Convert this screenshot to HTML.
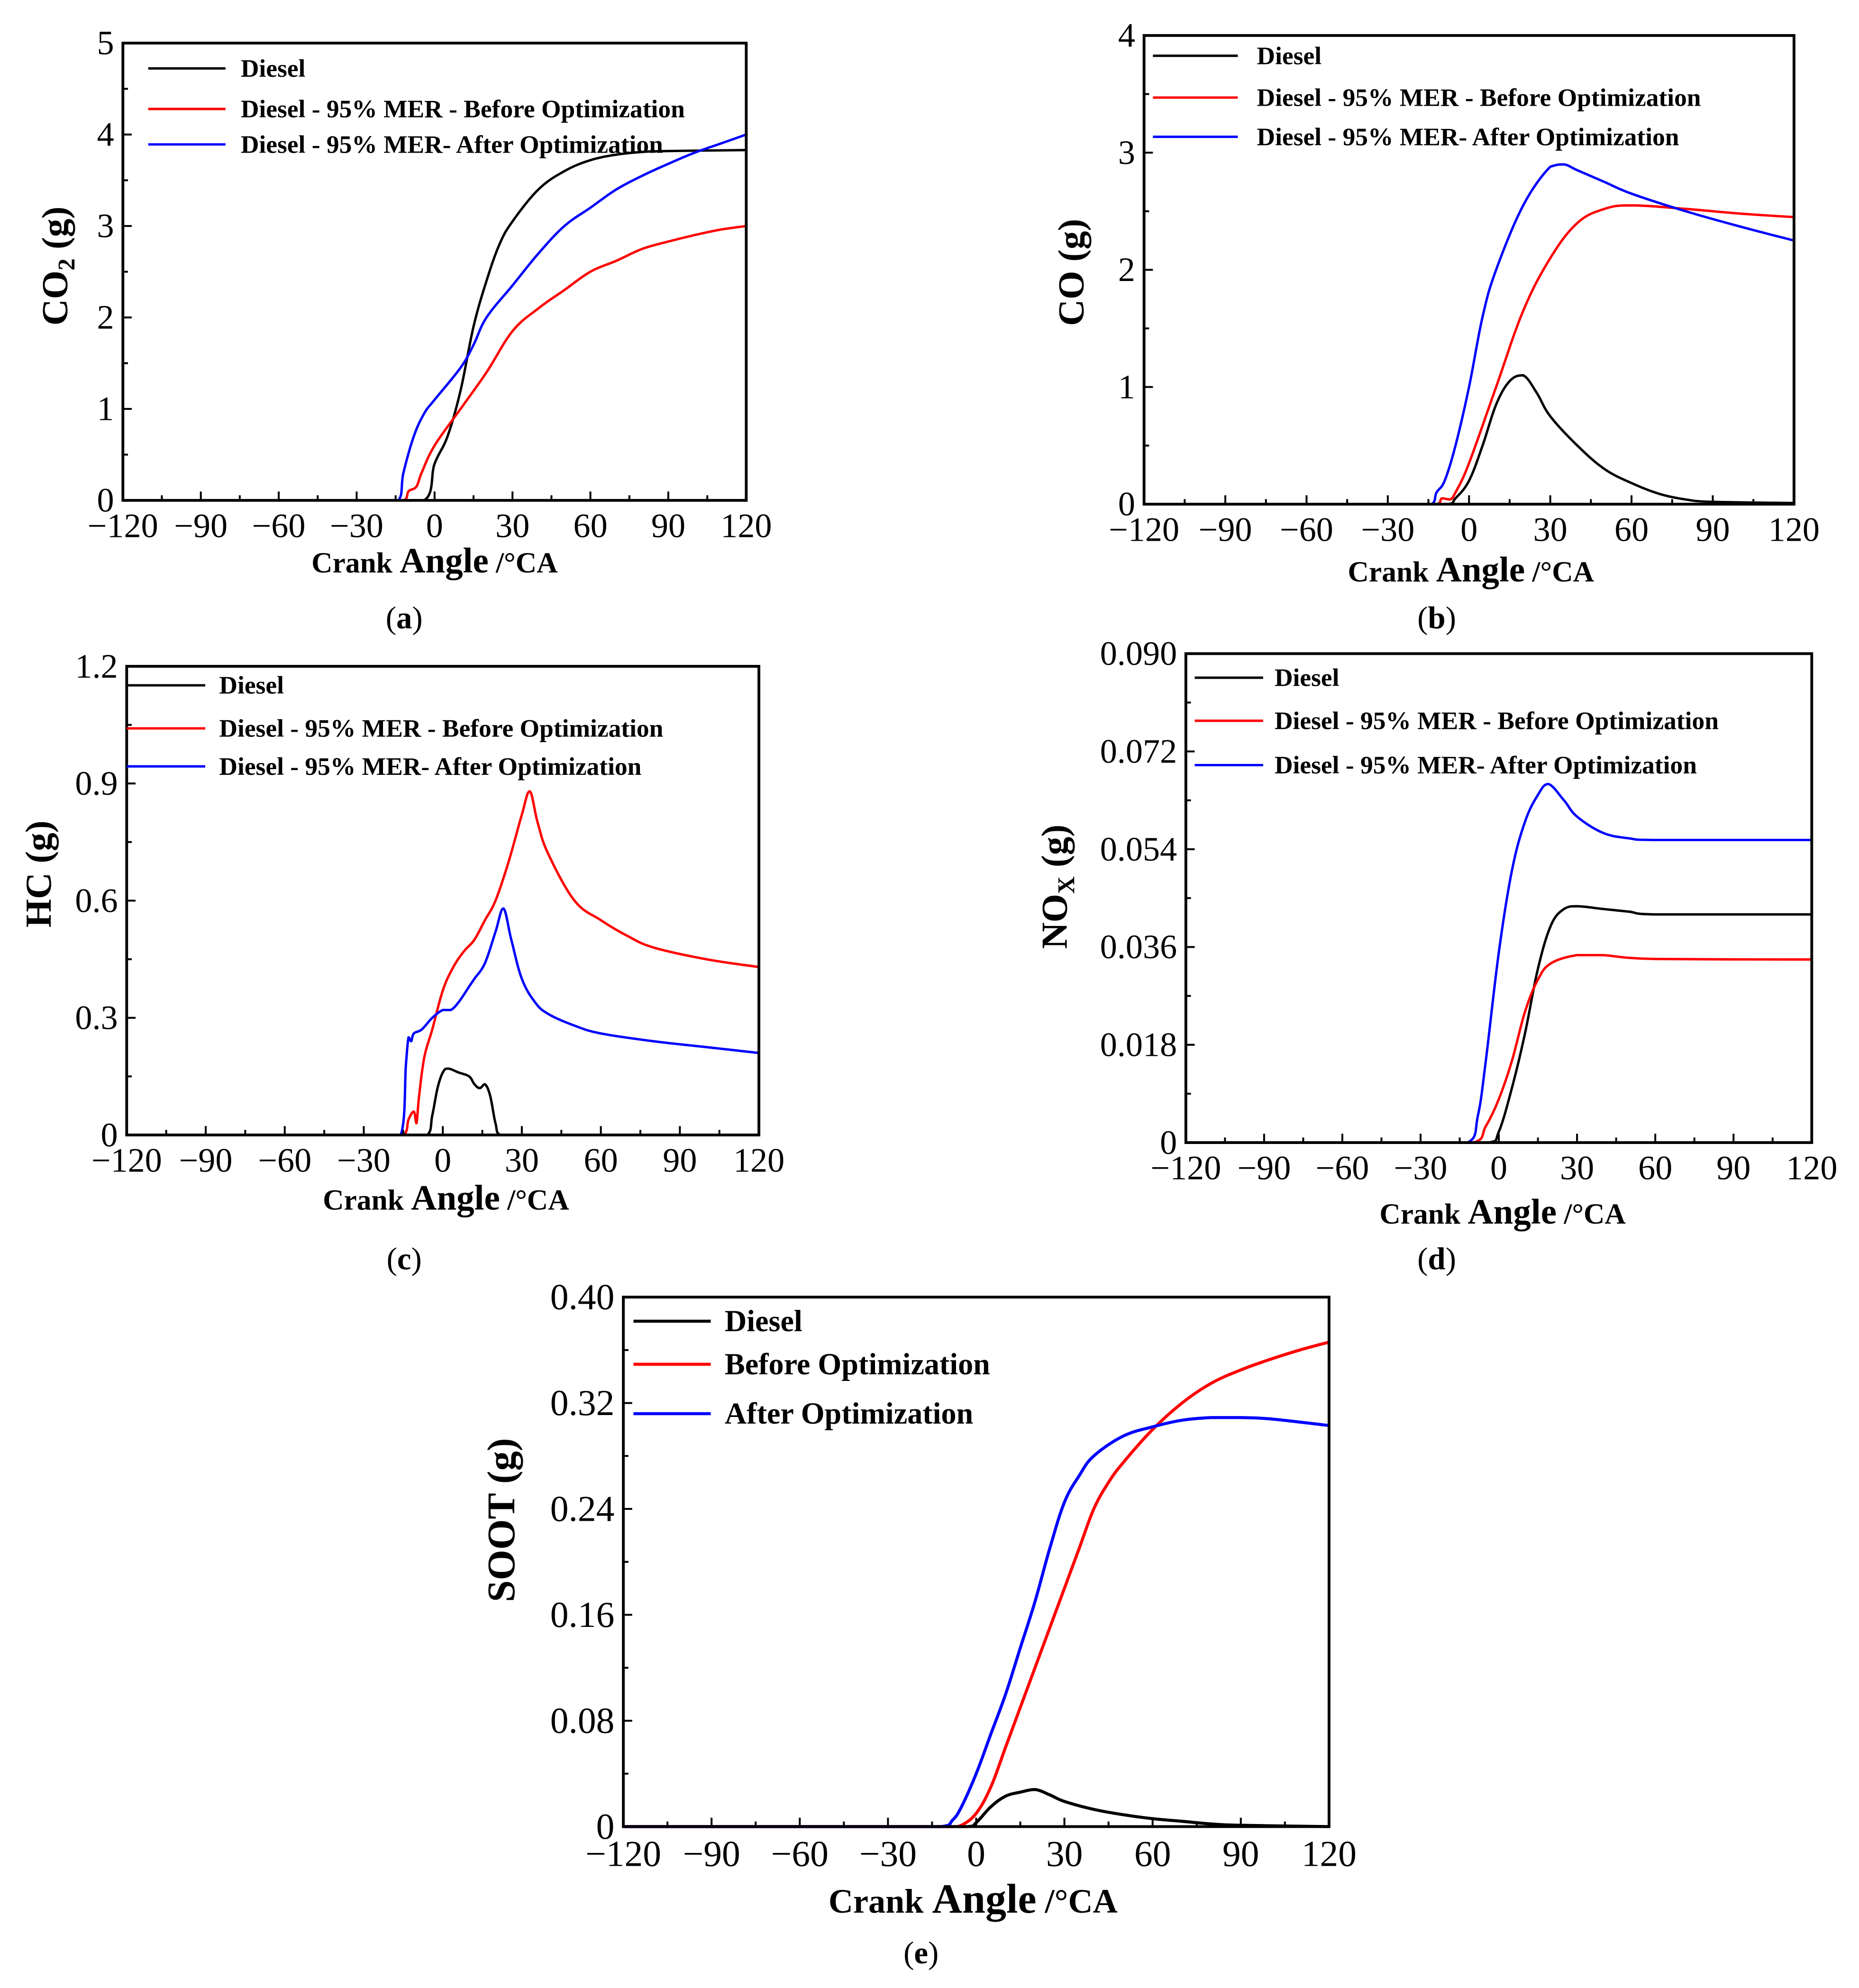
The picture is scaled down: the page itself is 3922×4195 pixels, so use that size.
<!DOCTYPE html>
<html><head><meta charset="utf-8"><style>
html,body{margin:0;padding:0;background:#fff}
svg{display:block}
text{font-family:"Liberation Serif","Times New Roman",serif;fill:#000}
</style></head><body>
<svg id="fig" font-family="Liberation Serif, serif" width="3922" height="4195" viewBox="0 0 1467.3 1569.4" xmlns="http://www.w3.org/2000/svg"></svg>
<script>
// ---- data (crank angle / value pairs) ----
const coX_diesel=[-120,-4,0,5,10,15,20,25,30,40,50,60,70,80,90,120];
const coY_diesel=[0,0,0.4,0.7,1.2,1.9,2.4,2.8,3.05,3.4,3.6,3.72,3.78,3.81,3.82,3.83];
const co2X_before=[-120,-12,-10,-7,-5,0,10,20,30,40,50,60,70,80,90,100,110,120];
const co2Y_before=[0,0,0.1,0.15,0.3,0.6,1.0,1.4,1.85,2.1,2.3,2.5,2.62,2.75,2.83,2.9,2.96,3.0];
const co2X_after=[-120,-14,-12,-8,-4,0,10,15,20,30,40,50,60,70,80,90,100,110,120];
const co2Y_after=[0,0,0.3,0.7,0.95,1.1,1.45,1.7,2.0,2.35,2.7,3.0,3.2,3.4,3.55,3.68,3.8,3.9,4.0];

const cobX_diesel=[-120,-8,-5,0,5,10,15,20,25,30,40,50,60,70,80,90,120];
const cobY_diesel=[0,0,0.05,0.2,0.5,0.85,1.05,1.1,0.95,0.75,0.5,0.3,0.18,0.09,0.04,0.02,0.01];
const cobX_before=[-120,-12,-10,-7,-5,0,10,20,30,40,50,60,80,100,120];
const cobY_before=[0,0,0.05,0.04,0.1,0.35,1.0,1.65,2.1,2.4,2.52,2.55,2.52,2.48,2.45];
const cobX_after=[-120,-14,-12,-9,-5,0,5,10,20,30,35,40,50,60,80,100,120];
const cobY_after=[0,0,0.1,0.2,0.5,1.0,1.6,2.0,2.55,2.88,2.9,2.85,2.75,2.65,2.5,2.37,2.25];

const hcX_diesel=[-120,-6,-4,-2,0,2,6,10,12,14,16,18,20,22,120];
const hcY_diesel=[0,0,0.05,0.12,0.16,0.17,0.16,0.15,0.13,0.12,0.13,0.10,0.03,0,0];
const hcX_before=[-120,-15,-13,-11,-10,-9,-7,-4,0,4,8,12,16,20,25,30,33,36,40,50,60,70,80,100,120];
const hcY_before=[0,0,0.04,0.06,0.03,0.1,0.2,0.27,0.37,0.43,0.47,0.5,0.55,0.6,0.7,0.82,0.88,0.8,0.72,0.6,0.55,0.51,0.48,0.45,0.43];
const hcX_after=[-120,-16,-14,-13,-12,-11,-8,-4,0,3,6,10,12,16,20,23,26,30,35,40,50,60,80,100,120];
const hcY_after=[0,0,0.18,0.25,0.24,0.26,0.27,0.3,0.32,0.32,0.34,0.38,0.4,0.44,0.52,0.58,0.5,0.4,0.34,0.31,0.28,0.26,0.24,0.225,0.21];

const noxX_diesel=[-120,-4,0,5,10,15,20,25,30,40,50,60,120];
const noxY_diesel=[0,0,0.002,0.01,0.02,0.032,0.04,0.043,0.0435,0.043,0.0425,0.042,0.042];
const noxX_before=[-120,-10,-5,0,5,10,15,20,30,40,60,120];
const noxY_before=[0,0,0.003,0.008,0.015,0.024,0.03,0.033,0.0345,0.0345,0.0338,0.0337];
const noxX_after=[-120,-12,-8,-5,0,5,10,15,19,25,30,40,50,60,120];
const noxY_after=[0,0,0.005,0.015,0.035,0.05,0.059,0.064,0.066,0.063,0.06,0.057,0.056,0.0557,0.0557];

const sootX_diesel=[-120,-3,0,5,10,15,20,25,30,40,50,60,70,80,90,120];
const sootY_diesel=[0,0,0.003,0.015,0.023,0.026,0.028,0.024,0.019,0.013,0.009,0.006,0.004,0.002,0.001,0];
const sootX_before=[-120,-8,-5,0,5,10,15,20,25,30,35,40,45,50,60,70,80,90,100,110,120];
const sootY_before=[0,0,0.001,0.01,0.03,0.06,0.09,0.12,0.15,0.18,0.21,0.24,0.26,0.275,0.3,0.32,0.335,0.345,0.353,0.36,0.366];
const sootX_after=[-120,-12,-8,-5,0,5,10,15,20,25,30,35,40,50,60,70,80,90,100,120];
const sootY_after=[0,0,0.005,0.015,0.04,0.07,0.1,0.135,0.17,0.21,0.245,0.265,0.28,0.295,0.302,0.307,0.309,0.309,0.308,0.303];

const xTicks=[-120,-90,-60,-30,0,30,60,90,120];
const xTickLabels=["\u2212120","\u221290","\u221260","\u221230","0","30","60","90","120"];

const NS="http://www.w3.org/2000/svg";
const svg=document.getElementById('fig');
function mk(tag,attrs,parent){const e=document.createElementNS(NS,tag);for(const k in attrs)e.setAttribute(k,attrs[k]);(parent||svg).appendChild(e);return e;}
function clamp(v,a,b){const lo=Math.min(a,b),hi=Math.max(a,b);return Math.min(Math.max(v,lo),hi);}

function smoothPath(pts){
  let d='M'+pts[0][0].toFixed(2)+' '+pts[0][1].toFixed(2);
  const t=0.18;
  for(let i=0;i<pts.length-1;i++){
    const p0=pts[i-1]||pts[i],p1=pts[i],p2=pts[i+1],p3=pts[i+2]||p2;
    const c1=[p1[0]+(p2[0]-p0[0])*t,p1[1]+(p2[1]-p0[1])*t];
    const c2=[p2[0]-(p3[0]-p1[0])*t,p2[1]-(p3[1]-p1[1])*t];
    c1[0]=clamp(c1[0],p1[0],p2[0]);c2[0]=clamp(c2[0],p1[0],p2[0]);
    c1[1]=clamp(c1[1],p1[1],p2[1]);c2[1]=clamp(c2[1],p1[1],p2[1]);
    d+='C'+c1[0].toFixed(2)+' '+c1[1].toFixed(2)+' '+c2[0].toFixed(2)+' '+c2[1].toFixed(2)+' '+p2[0].toFixed(2)+' '+p2[1].toFixed(2);
  }
  return d;
}

function panel(p){
  const g=mk('g',{});
  
  
  const sx=v=>p.x0+(v+120)/240*(p.x1-p.x0);
  const sy=v=>p.y1-(v-p.ymin)/(p.ymax-p.ymin)*(p.y1-p.y0);
  p.series.forEach(s=>{
    const pts=s.x.map((xv,i)=>[sx(xv),sy(s.y[i])]);
    const path=mk('path',{d:smoothPath(pts),fill:'none',stroke:s.color,'stroke-width':p.lw||1.9,'stroke-linejoin':'round'},g);
    
    
  });
  const fr=mk('rect',{x:p.x0,y:p.y0,width:p.x1-p.x0,height:p.y1-p.y0,fill:'none',stroke:'#000','stroke-width':2.2},g);
  
  
  xTicks.forEach((t,i)=>{
    mk('line',{x1:sx(t),x2:sx(t),y1:p.y1,y2:p.y1-7,stroke:'#000','stroke-width':1.5},g);
    if(i<xTicks.length-1){const m=t+15;mk('line',{x1:sx(m),x2:sx(m),y1:p.y1,y2:p.y1-4,stroke:'#000','stroke-width':1.5},g);}
    const tx=mk('text',{x:sx(t),y:p.y1+p.tf+2,'font-size':p.tf,'text-anchor':'middle'},g);
    tx.textContent=xTickLabels[i];
    
    
  });
  p.yTicks.forEach((t,i)=>{
    mk('line',{x1:p.x0,x2:p.x0+7,y1:sy(t),y2:sy(t),stroke:'#000','stroke-width':1.5},g);
    if(i<p.yTicks.length-1){const m=(t+p.yTicks[i+1])/2;mk('line',{x1:p.x0,x2:p.x0+4,y1:sy(m),y2:sy(m),stroke:'#000','stroke-width':1.5},g);}
    const ty=mk('text',{x:p.x0-7,y:sy(t)+p.tf*0.33,'font-size':p.tf,'text-anchor':'end'},g);
    ty.textContent=p.yTickLabels[i];
    
    
  });
  p.series.forEach((s,i)=>{
    const ly=p.leg.ys[i];
    const ll=mk('line',{x1:p.leg.lx0,x2:p.leg.lx1,y1:ly,y2:ly,stroke:s.color,'stroke-width':p.lw||1.9},g);
    
    
    const lt=mk('text',{x:p.leg.tx,y:ly+p.leg.fs*0.33,'font-size':p.leg.fs,'font-weight':'bold'},g);
    lt.textContent=s.label;
    
    
  });
  const xt=mk('text',{x:p.xt[0],y:p.xt[1],'font-size':p.xtf,'font-weight':'bold','text-anchor':'middle'},g);
  xt.innerHTML='Crank <tspan font-size="'+(p.xtf*1.22)+'">Angle</tspan> /°CA';
  
  
  const yt=mk('text',{x:0,y:0,'font-size':p.ytf,'font-weight':'bold','text-anchor':'middle',transform:'translate('+p.yt[0]+','+p.yt[1]+') rotate(-90)'},g);
  yt.innerHTML=p.ytitle;
  
  
  const cp=mk('text',{x:p.cap[0],y:p.cap[1],'font-size':25,'text-anchor':'middle'},g);
  cp.innerHTML='(<tspan font-weight="bold">'+p.id+'</tspan>)';
  
  
}

const L1="Diesel",L2="Diesel - 95% MER - Before Optimization",L3="Diesel - 95% MER- After Optimization";
panel({id:'a',x0:97,x1:589,y0:34,y1:395,ymin:0,ymax:5,yTicks:[0,1,2,3,4,5],yTickLabels:["0","1","2","3","4","5"],tf:27,
  series:[{key:'diesel',color:'#000',x:coX_diesel,y:coY_diesel,label:L1},{key:'before',color:'#f00',x:co2X_before,y:co2Y_before,label:L2},{key:'after',color:'#00f',x:co2X_after,y:co2Y_after,label:L3}],
  leg:{lx0:117,lx1:178,tx:190,ys:[54,86,114],fs:20},xt:[343,452],xtf:23,yt:[53,210],ytf:29,ytitle:'CO<tspan font-size="19" dy="6">2</tspan><tspan dy="-6"> (g)</tspan>',cap:[319,496]});
panel({id:'b',x0:903,x1:1416,y0:28,y1:398,ymin:0,ymax:4,yTicks:[0,1,2,3,4],yTickLabels:["0","1","2","3","4"],tf:27,
  series:[{key:'diesel',color:'#000',x:cobX_diesel,y:cobY_diesel,label:L1},{key:'before',color:'#f00',x:cobX_before,y:cobY_before,label:L2},{key:'after',color:'#00f',x:cobX_after,y:cobY_after,label:L3}],
  leg:{lx0:910,lx1:977,tx:992,ys:[44,77,108],fs:20},xt:[1161,459],xtf:23,yt:[855,215],ytf:29,ytitle:'CO  (g)',cap:[1134,496]});
panel({id:'c',x0:100,x1:599,y0:526,y1:896,ymin:0,ymax:1.2,yTicks:[0,0.3,0.6,0.9,1.2],yTickLabels:["0","0.3","0.6","0.9","1.2"],tf:27,
  series:[{key:'diesel',color:'#000',x:hcX_diesel,y:hcY_diesel,label:L1},{key:'before',color:'#f00',x:hcX_before,y:hcY_before,label:L2},{key:'after',color:'#00f',x:hcX_after,y:hcY_after,label:L3}],
  leg:{lx0:100,lx1:162,tx:173,ys:[541,575,605],fs:20},xt:[352,955],xtf:23,yt:[40,690],ytf:29,ytitle:'HC  (g)',cap:[319,1002]});
panel({id:'d',x0:936,x1:1430,y0:516,y1:902,ymin:0,ymax:0.09,yTicks:[0,0.018,0.036,0.054,0.072,0.09],yTickLabels:["0","0.018","0.036","0.054","0.072","0.090"],tf:27,
  series:[{key:'diesel',color:'#000',x:noxX_diesel,y:noxY_diesel,label:L1},{key:'before',color:'#f00',x:noxX_before,y:noxY_before,label:L2},{key:'after',color:'#00f',x:noxX_after,y:noxY_after,label:L3}],
  leg:{lx0:943,lx1:997,tx:1006,ys:[535,569,604],fs:20},xt:[1186,966],xtf:23,yt:[842,700],ytf:29,ytitle:'NO<tspan font-size="19" dy="6">X</tspan><tspan dy="-6">  (g)</tspan>',cap:[1134,1002]});
panel({id:'e',x0:492,x1:1049,y0:1024,y1:1442,ymin:0,ymax:0.4,yTicks:[0,0.08,0.16,0.24,0.32,0.4],yTickLabels:["0","0.08","0.16","0.24","0.32","0.40"],tf:29,lw:2.4,
  series:[{key:'diesel',color:'#000',x:sootX_diesel,y:sootY_diesel,label:'Diesel'},{key:'before',color:'#f00',x:sootX_before,y:sootY_before,label:'Before Optimization'},{key:'after',color:'#00f',x:sootX_after,y:sootY_after,label:'After Optimization'}],
  leg:{lx0:500,lx1:561,tx:572,ys:[1043,1077,1116],fs:24},xt:[768,1510],xtf:27,yt:[406,1200],ytf:31,ytitle:'SOOT  (g)',cap:[727,1550]});
</script>
</body></html>
